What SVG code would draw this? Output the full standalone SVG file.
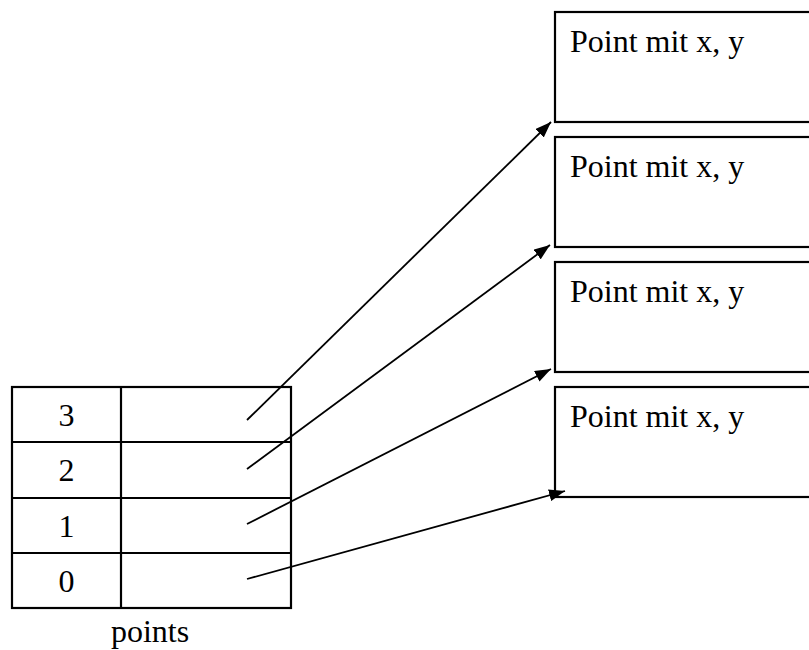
<svg xmlns="http://www.w3.org/2000/svg" width="809" height="650" viewBox="0 0 809 650">
<style>
.box{fill:#fff;stroke:#000;stroke-width:2.2}
.t{font-family:"Liberation Serif","Times New Roman",serif;font-size:32px;fill:#000}
.c{stroke:#000;stroke-width:1.8;fill:none}
</style>
<defs>
<marker id="ah" viewBox="0 0 16 12" refX="16" refY="6" markerWidth="16" markerHeight="12" markerUnits="userSpaceOnUse" orient="auto">
<path d="M0,0 L16,6 L0,12 z" fill="#000"/>
</marker>
</defs>
<rect width="809" height="650" fill="#fff"/>
<g id="point3"><rect class="box" x="555" y="12" width="270" height="110"/><text class="t" x="570" y="52">Point mit x, y</text></g>
<g id="point2"><rect class="box" x="555" y="137" width="270" height="110"/><text class="t" x="570" y="177">Point mit x, y</text></g>
<g id="point1"><rect class="box" x="555" y="262" width="270" height="110"/><text class="t" x="570" y="302">Point mit x, y</text></g>
<g id="point0"><rect class="box" x="555" y="387" width="270" height="110"/><text class="t" x="570" y="427">Point mit x, y</text></g>
<g id="points">
<rect class="box" x="12" y="387" width="279" height="221"/>
<line class="box" x1="121" y1="387" x2="121" y2="608"/>
<line class="box" x1="12" y1="442" x2="291" y2="442"/>
<line class="box" x1="12" y1="498" x2="291" y2="498"/>
<line class="box" x1="12" y1="553" x2="291" y2="553"/>
<text class="t" x="66.5" y="426" text-anchor="middle">3</text>
<text class="t" x="66.5" y="481" text-anchor="middle">2</text>
<text class="t" x="66.5" y="537" text-anchor="middle">1</text>
<text class="t" x="66.5" y="592" text-anchor="middle">0</text>
<text class="t" x="150" y="642" text-anchor="middle">points</text>
</g>
<g id="connectors">
<line class="c" x1="247" y1="420" x2="551" y2="122" marker-end="url(#ah)"/>
<line class="c" x1="247" y1="469" x2="550" y2="245" marker-end="url(#ah)"/>
<line class="c" x1="247" y1="524" x2="551" y2="369" marker-end="url(#ah)"/>
<line class="c" x1="247" y1="579" x2="565" y2="491" marker-end="url(#ah)"/>
</g>
</svg>
